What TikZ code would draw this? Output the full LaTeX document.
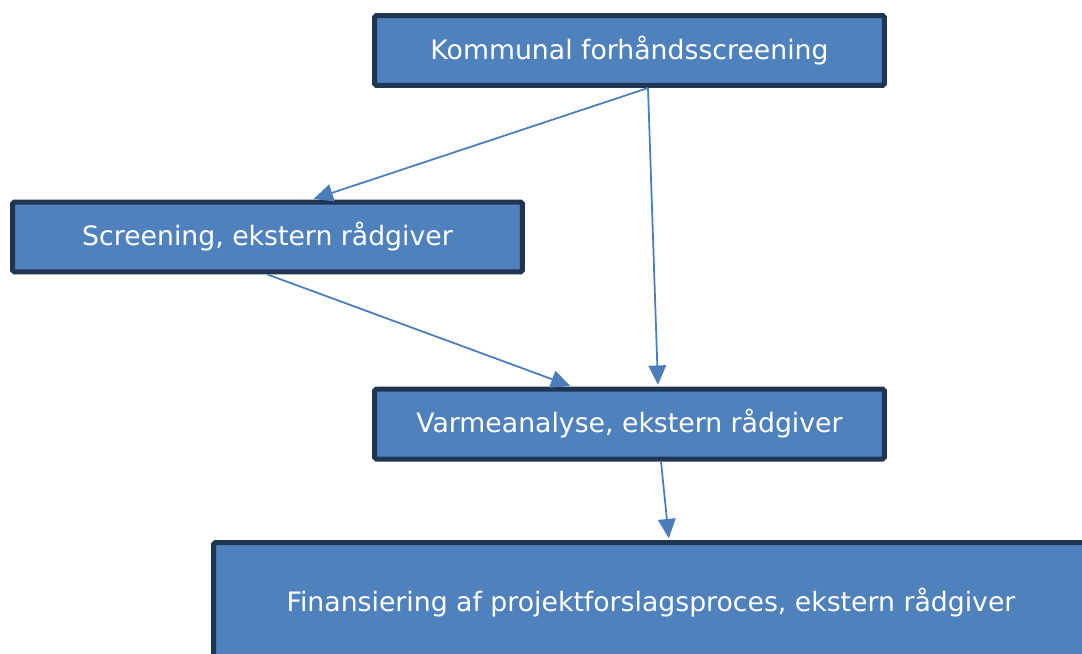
\documentclass[tikz,border=0pt]{standalone}
\usepackage{fontspec}
\setmainfont{DejaVu Sans}
\usetikzlibrary{arrows.meta}
\definecolor{boxfill}{HTML}{4F81BD}
\definecolor{boxline}{HTML}{1F3552}
\definecolor{linkblue}{HTML}{4A7EBB}
\tikzset{
	flowbox/.style = {draw = boxline, fill = boxfill, line width = 0.1cm, rounded corners = 1pt, text = white, font = \fontsize{15.2}{18}\selectfont, inner sep = 0pt},
	link/.style = {draw = linkblue, line width = 1pt, -{Triangle[length = 11pt, width = 10pt]}, shorten > = 1pt}
}
\begin{document}
\begin{tikzpicture}[x = 0.02cm, y = -0.02cm]
		\useasboundingbox (0,0) rectangle (1082,653);
		\clip (0,0) rectangle (1082,653);
		% the four steps
		\node[flowbox, minimum width = 10.2cm, minimum height = 1.4cm] (kommunal) at (629.5,50.5) {Kommunal forhåndsscreening};
		\node[flowbox, minimum width = 10.2cm, minimum height = 1.4cm] (screening) at (267.5,237) {Screening, ekstern rådgiver};
		\node[flowbox, minimum width = 10.2cm, minimum height = 1.4cm] (varme) at (629.5,424) {Varmeanalyse, ekstern rådgiver};
		\node[flowbox, minimum width = 17.5cm, minimum height = 2.42cm] (finans) at (651,603) {Finansiering af projektforslagsproces, ekstern rådgiver};
		% connectors
		\draw[link] ([xshift = 0.37cm]kommunal.south) -- ([xshift = 0.89cm]screening.north);
		\draw[link] ([xshift = 0.37cm]kommunal.south) -- ([xshift = 0.57cm]varme.north);
		\draw[link] (screening.south) -- ([xshift = -1.15cm]varme.north);
		\draw[link] ([xshift = 0.63cm]varme.south) -- ([xshift = 0.36cm]finans.north);
	\end{tikzpicture}
\end{document}
